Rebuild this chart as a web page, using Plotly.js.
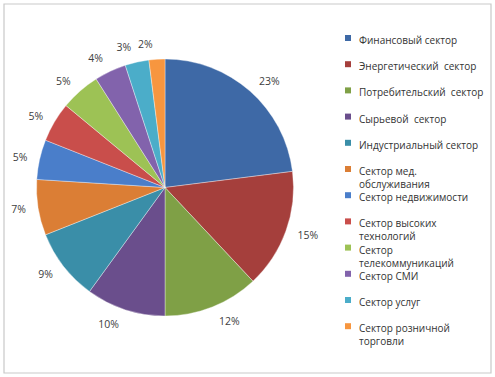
<!DOCTYPE html>
<html>
<head>
<meta charset="utf-8">
<script src="https://cdn.plot.ly/plotly-3.0.1.min.js"></script>
<style>html,body{margin:0;padding:0;background:#fff}#chart{width:495px;height:377px}</style>
</head>
<body>
<div id="chart"></div>
<script>
var categories = [
  "Финансовый сектор",
  "Энергетический  сектор",
  "Потребительский  сектор",
  "Сырьевой  сектор",
  "Индустриальный сектор",
  "Сектор мед.<br>обслуживания",
  "Сектор недвижимости",
  "Сектор высоких<br>технологий",
  "Сектор<br>телекоммуникаций",
  "Сектор СМИ",
  "Сектор услуг",
  "Сектор розничной<br>торговли"
];
var shares = [23, 15, 12, 10, 9, 7, 5, 5, 5, 4, 3, 2];
var colors = ["#3E69A6", "#A53F3C", "#7FA046", "#6A4E8C", "#3A8EA8", "#DB7E35",
              "#4A7ECA", "#C94E4B", "#9DC255", "#8263AC", "#4BADC9", "#F7963F"];

var W = 495, H = 377;
var cx = 165, cy = 187.5, r = 128.5, rl = 137;
function dom(rad) {
  return {x: [(cx - rad) / W, (cx + rad) / W], y: [(H - cy - rad) / H, (H - cy + rad) / H]};
}

var pie = {
  type: "pie", values: shares, labels: categories, sort: false, direction: "clockwise",
  rotation: 0, textinfo: "none", hoverinfo: "label+percent",
  marker: {colors: colors, line: {color: "rgba(255,255,255,0.45)", width: 0.8}},
  domain: dom(r), showlegend: false
};
// two transparent label rings (alternate slices) so neighbouring labels are not pushed apart
function labelPie(parity) {
  return {
    type: "pie", values: shares, labels: categories, sort: false, direction: "clockwise",
    rotation: 0, textinfo: "text", texttemplate: "%{value}%",
    textposition: shares.map(function(v, i){ return i % 2 === parity ? "outside" : "none"; }),
    outsidetextfont: {family: "Open Sans, sans-serif", size: 10.5, color: "#404040"},
    marker: {colors: colors.map(function(){return "rgba(0,0,0,0)";}), line: {width: 0}},
    domain: dom(rl), showlegend: false, hoverinfo: "skip"
  };
}

var shapes = [{type: "rect", xref: "paper", yref: "paper", x0: 4 / W, x1: 491 / W, y0: 1 - 373 / H, y1: 1 - 4 / H,
  line: {color: "#c9c9c9", width: 1.2}, fillcolor: "rgba(0,0,0,0)"}];
var annotations = [];
var lx = 348, ly0 = 38, step = 26.2;
categories.forEach(function(c, i) {
  var y = ly0 + i * step;
  shapes.push({type: "rect", xref: "paper", yref: "paper",
    x0: (lx - 3) / W, x1: (lx + 3) / W, y0: 1 - (y + 3) / H, y1: 1 - (y - 3) / H,
    fillcolor: colors[i], line: {width: 0}});
  annotations.push({xref: "paper", yref: "paper", x: (lx + 9) / W, y: 1 - (y - 7) / H,
    xanchor: "left", yanchor: "top", align: "left", showarrow: false, text: c,
    font: {family: "Open Sans, sans-serif", size: 10, color: "#333"}});
});

Plotly.newPlot("chart", [pie, labelPie(0), labelPie(1)], {
  width: W, height: H, margin: {l: 0, r: 0, t: 0, b: 0},
  paper_bgcolor: "#fff", shapes: shapes, annotations: annotations
}, {displayModeBar: false, staticPlot: true});
</script>
</body>
</html>
